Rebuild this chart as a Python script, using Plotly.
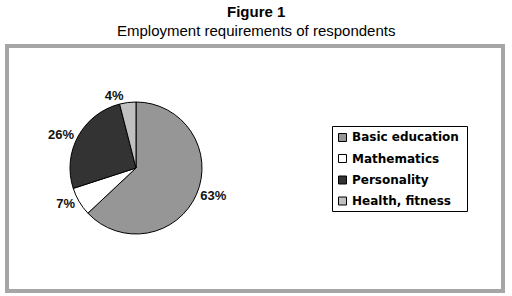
import plotly.graph_objects as go

labels = ["Basic education", "Mathematics", "Personality", "Health, fitness"]
values = [63, 7, 26, 4]
colors = ["#969696", "#ffffff", "#333333", "#c0c0c0"]

W, H = 512, 296

def px(x):
    return x / W

def py(y):
    return 1 - y / H

fig = go.Figure()
fig.add_trace(go.Pie(
    labels=labels,
    values=values,
    sort=False,
    direction="clockwise",
    rotation=0,
    marker=dict(colors=colors, line=dict(color="#000000", width=1)),
    textinfo="percent",
    texttemplate="%{percent:.0%}",
    textposition="outside",
    textfont=dict(family="Liberation Sans", size=13, color="#111111", weight="bold"),
    domain=dict(x=[px(70), px(202)], y=[py(234), py(102)]),
    hoverinfo="skip",
    showlegend=False,
))

# outer frame
fig.add_shape(type="rect", xref="paper", yref="paper",
              x0=px(7), x1=px(503), y0=py(291), y1=py(46),
              line=dict(color="#a6a6a6", width=4), fillcolor="rgba(0,0,0,0)")

# titles
fig.add_annotation(text="<b>Figure 1</b>", x=0.5, y=py(11), xref="paper", yref="paper",
                   showarrow=False, xanchor="center", yanchor="middle",
                   font=dict(family="Liberation Sans", size=15, color="#000000"))
fig.add_annotation(text="Employment requirements of respondents", x=0.5, y=py(31),
                   xref="paper", yref="paper", showarrow=False, xanchor="center", yanchor="middle",
                   font=dict(family="Liberation Sans", size=15, color="#000000"))

# legend (custom box)
fig.add_shape(type="rect", xref="paper", yref="paper",
              x0=px(332.5), x1=px(467.5), y0=py(211.5), y1=py(126.5),
              line=dict(color="#000000", width=1), fillcolor="#ffffff")
leg_y = [137.5, 158.5, 180, 201]
for lab, col, yy in zip(labels, colors, leg_y):
    fig.add_shape(type="rect", xref="paper", yref="paper",
                  x0=px(338.5), x1=px(346.5), y0=py(yy + 4), y1=py(yy - 4),
                  line=dict(color="#000000", width=1), fillcolor=col)
    fig.add_annotation(text=lab, x=px(350), y=py(yy), xref="paper", yref="paper",
                       showarrow=False, xanchor="left", yanchor="middle",
                       font=dict(family="DejaVu Sans", size=12, color="#000000", weight="bold"))

fig.update_layout(
    width=W, height=H,
    margin=dict(l=0, r=0, t=0, b=0),
    paper_bgcolor="#ffffff",
    plot_bgcolor="#ffffff",
    showlegend=False,
)

fig.write_html("out.html", config={"displayModeBar": False},
               post_script="document.body.style.margin='0px';")
